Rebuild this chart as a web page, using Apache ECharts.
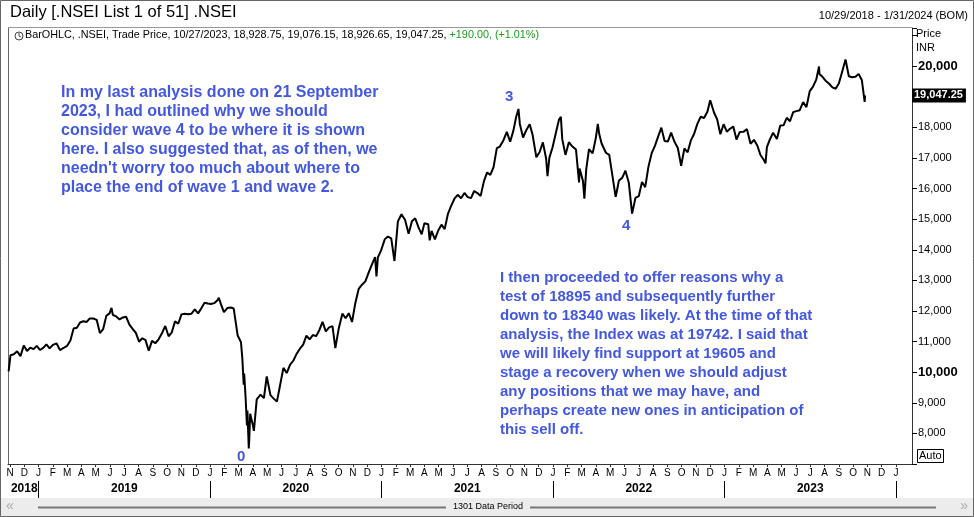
<!DOCTYPE html>
<html>
<head>
<meta charset="utf-8">
<script src="https://cdn.jsdelivr.net/npm/echarts@6/dist/echarts.min.js"></script>
<style>
html,body{margin:0;padding:0;background:#fff;}
#main{width:974px;height:517px;}
</style>
</head>
<body>
<div id="main"></div>
<script>
// weekly closes (plus a few turning points)
var dates = [
'2018-10-29','2018-11-02','2018-11-09','2018-11-16','2018-11-23','2018-11-30','2018-12-07','2018-12-14','2018-12-21','2018-12-28',
'2019-01-04','2019-01-11','2019-01-18','2019-01-25','2019-02-01','2019-02-08','2019-02-15','2019-02-22','2019-03-01','2019-03-08',
'2019-03-15','2019-03-22','2019-03-29','2019-04-05','2019-04-12','2019-04-18','2019-04-26','2019-05-03','2019-05-10','2019-05-17',
'2019-05-24','2019-05-31','2019-06-04','2019-06-07','2019-06-14','2019-06-21','2019-06-28','2019-07-05','2019-07-12','2019-07-19','2019-07-26',
'2019-08-02','2019-08-09','2019-08-16','2019-08-23','2019-08-30','2019-09-06','2019-09-13','2019-09-20','2019-09-27','2019-10-04',
'2019-10-11','2019-10-18','2019-10-25','2019-11-01','2019-11-08','2019-11-15','2019-11-22','2019-11-29','2019-12-06','2019-12-13',
'2019-12-20','2019-12-27',
'2020-01-03','2020-01-10','2020-01-17','2020-01-20','2020-01-24','2020-01-31','2020-02-07','2020-02-14','2020-02-20','2020-02-28','2020-03-06',
'2020-03-09','2020-03-12','2020-03-13','2020-03-16','2020-03-19','2020-03-20','2020-03-23','2020-03-24','2020-03-26','2020-03-27',
'2020-04-01','2020-04-03','2020-04-09','2020-04-17','2020-04-24','2020-04-30','2020-05-08','2020-05-15','2020-05-22','2020-05-29',
'2020-06-05','2020-06-12','2020-06-19','2020-06-26','2020-07-03','2020-07-10','2020-07-17','2020-07-24','2020-07-31','2020-08-07',
'2020-08-14','2020-08-21','2020-08-28','2020-09-04','2020-09-11','2020-09-18','2020-09-24','2020-10-01','2020-10-09','2020-10-16',
'2020-10-23','2020-10-30','2020-11-06','2020-11-13','2020-11-20','2020-11-27','2020-12-04','2020-12-11','2020-12-18','2020-12-21','2020-12-24',
'2020-12-31',
'2021-01-08','2021-01-15','2021-01-22','2021-01-29','2021-02-05','2021-02-12','2021-02-19','2021-02-26','2021-03-05','2021-03-12',
'2021-03-19','2021-03-26','2021-04-01','2021-04-09','2021-04-12','2021-04-16','2021-04-23','2021-04-30','2021-05-07','2021-05-14','2021-05-21',
'2021-05-28','2021-06-04','2021-06-11','2021-06-18','2021-06-25','2021-07-02','2021-07-09','2021-07-16','2021-07-23','2021-07-30',
'2021-08-06','2021-08-13','2021-08-20','2021-08-27','2021-09-03','2021-09-09','2021-09-17','2021-09-24','2021-10-01','2021-10-08',
'2021-10-14','2021-10-19','2021-10-22','2021-10-29','2021-11-05','2021-11-12','2021-11-18','2021-11-26','2021-12-03','2021-12-10',
'2021-12-17','2021-12-20','2021-12-24','2021-12-31',
'2022-01-07','2022-01-14','2022-01-18','2022-01-21','2022-01-28','2022-02-04','2022-02-11','2022-02-18','2022-02-24','2022-02-25',
'2022-03-04','2022-03-07','2022-03-11','2022-03-17','2022-03-25','2022-04-01','2022-04-05','2022-04-08','2022-04-13','2022-04-22','2022-04-29',
'2022-05-06','2022-05-12','2022-05-13','2022-05-20','2022-05-27','2022-06-03','2022-06-10','2022-06-17','2022-06-24','2022-07-01',
'2022-07-08','2022-07-15','2022-07-22','2022-07-29','2022-08-05','2022-08-12','2022-08-19','2022-08-26','2022-09-02','2022-09-09',
'2022-09-16','2022-09-23','2022-09-30','2022-10-07','2022-10-14','2022-10-21','2022-10-28','2022-11-04','2022-11-11','2022-11-18',
'2022-11-25','2022-12-01','2022-12-09','2022-12-16','2022-12-23','2022-12-30',
'2023-01-06','2023-01-13','2023-01-20','2023-01-27','2023-02-03','2023-02-10','2023-02-17','2023-02-24','2023-03-03','2023-03-10',
'2023-03-17','2023-03-24','2023-03-28','2023-03-31','2023-04-06','2023-04-13','2023-04-21','2023-04-28','2023-05-05','2023-05-12',
'2023-05-19','2023-05-26','2023-06-02','2023-06-09','2023-06-16','2023-06-23','2023-06-30','2023-07-07','2023-07-14','2023-07-20',
'2023-07-21','2023-07-28','2023-08-04','2023-08-11','2023-08-18','2023-08-25','2023-09-01','2023-09-08','2023-09-15','2023-09-22',
'2023-09-29','2023-10-06','2023-10-13','2023-10-20','2023-10-26','2023-10-27'
];
var closes = [
10030,10553,10585,10682,10526,10877,10694,10805,10754,10860,
10727,10795,10907,10780,10894,10944,10724,10792,10864,11035,
11427,11456,11624,11665,11643,11753,11755,11712,11279,11407,
11844,11923,12103,11871,11823,11724,11789,11811,11552,11419,11284,
10997,11110,11048,10700,11023,10946,11076,11274,11512,11175,
11305,11662,11583,11890,11908,11895,11914,12056,11922,12087,
12272,12246,
12227,12257,12352,12430,12248,11962,12098,12113,12081,11202,10989,
10451,9590,9955,9197,8263,8745,7511,7801,8641,8660,
8254,8084,9112,9267,9154,9860,9252,9137,9040,9580,
10142,9973,10244,10383,10608,10768,10902,11194,11073,11214,
11178,11372,11647,11333,11464,11505,10790,11417,11914,11762,
11930,11642,12264,12720,12860,12969,13258,13514,13761,13131,13749,
13982,
14347,14433,14372,13635,14924,15163,14982,14529,14938,15031,
14744,14507,14867,14835,14310,14617,14341,14631,14823,14678,15175,
15436,15670,15799,15683,15860,15722,15690,15923,15856,15763,
16238,16529,16450,16705,17324,17369,17585,17853,17532,17895,
18339,18604,18114,17672,17916,18102,17765,17026,17196,17511,
16985,16410,17004,17354,
17812,18256,18350,17617,17102,17516,17375,17276,16203,16658,
16245,15671,16630,17287,17153,17670,18114,17784,17476,17172,17102,
16411,15808,15735,16266,16352,16584,16202,15183,15699,15752,
16220,16049,16719,17158,17397,17698,17992,17558,17539,17833,
17531,17327,16747,17315,17186,17576,17787,18117,18350,18308,
18512,18887,18497,18269,17780,18105,
17860,17956,18028,17604,17854,17856,17944,17466,17594,17413,
17100,16945,16828,17360,17599,17828,17624,18065,18069,18315,
18203,18499,18534,18563,18826,18665,19189,19332,19564,19991,
19745,19646,19517,19428,19310,19266,19435,19820,20222,19674,
19638,19654,19751,19542,18837,19047
];
var monthLetters = ['N','D',
'J','F','M','A','M','J','J','A','S','O','N','D',
'J','F','M','A','M','J','J','A','S','O','N','D',
'J','F','M','A','M','J','J','A','S','O','N','D',
'J','F','M','A','M','J','J','A','S','O','N','D',
'J','F','M','A','M','J','J','A','S','O','N','D',
'J'];
var yearLabels = ['2018','2019','2020','2021','2022','2023'];
var yearLabelIdx = [1, 8, 20, 32, 44, 56];
var janIdx = [2, 14, 26, 38, 50, 62];
var priceTicks = [8000,9000,10000,11000,12000,13000,14000,15000,16000,17000,18000,20000];
var lastPrice = 19047.25;

// months since 1 Nov 2018 (fractional)
function monthPos(d) {
  var p = d.split('-').map(Number);
  var dim = new Date(p[0], p[1], 0).getDate();
  return (p[0] - 2018) * 12 + (p[1] - 1) - 10 + (p[2] - 1) / dim;
}
var lineData = dates.map(function (d, i) { return [monthPos(d), closes[i]]; });

var blue = '#4458dc';
var font = '"Liberation Sans", Arial, sans-serif';
var narrow = '"Liberation Sans Narrow", "Liberation Sans", Arial, sans-serif';

var leftNote = [
  'In my last analysis done on 21 September',
  '2023, I had outlined why we should',
  'consider wave 4 to be where it is shown',
  'here. I also suggested that, as of then, we',
  'needn\'t worry too much about where to',
  'place the end of wave 1 and wave 2.'
].join('\n');
var rightNote = [
  'I then proceeded to offer reasons why a',
  'test of 18895 and subsequently further',
  'down to 18340 was likely. At the time of that',
  'analysis, the Index was at 19742. I said that',
  'we will likely find support at 19605 and',
  'stage a recovery when we should adjust',
  'any positions that we may have, and',
  'perhaps create new ones in anticipation of',
  'this sell off.'
].join('\n');

var hidden = {show: false, axisLine: {show: false}, axisTick: {show: false}, axisLabel: {show: false}, splitLine: {show: false}};

var chart = echarts.init(document.getElementById('main'));
chart.setOption({
  animation: false,
  backgroundColor: '#fff',
  grid: [
    {left: 8, top: 28, width: 904, height: 436},
    {left: 10, top: 28, width: 886, height: 436}
  ],
  xAxis: [
    {
      gridIndex: 0, type: 'value', min: -0.14, max: 63.12, position: 'bottom',
      axisLine: {show: true, onZero: false, lineStyle: {color: '#333', width: 1}},
      axisTick: {show: false}, axisLabel: {show: false}, splitLine: {show: false}
    },
    {
      gridIndex: 1, type: 'category', data: monthLetters, boundaryGap: false, position: 'bottom',
      axisLine: {show: false},
      axisTick: {show: true, length: 3, lineStyle: {color: '#333'}},
      axisLabel: {interval: 0, margin: 4, fontSize: 10, color: '#000', fontFamily: narrow},
      splitLine: {show: false}
    },
    {
      gridIndex: 1, type: 'category', data: monthLetters, boundaryGap: false, position: 'bottom', offset: 34,
      axisLine: {show: false},
      axisTick: {
        show: true, inside: true, length: 17, lineStyle: {color: '#000'},
        interval: function (idx) { return janIdx.indexOf(idx) >= 0; }
      },
      axisLabel: {
        inside: true, interval: 0, margin: 3, fontSize: 12, fontWeight: 'bold', color: '#000', fontFamily: narrow,
        formatter: function (v, idx) {
          var k = yearLabelIdx.indexOf(idx);
          return k >= 0 ? yearLabels[k] : '';
        }
      },
      splitLine: {show: false}
    }
  ],
  yAxis: [
    {
      gridIndex: 0, type: 'value', position: 'right', min: 7000, max: 21250, interval: 1000,
      axisLine: {show: true, onZero: false, lineStyle: {color: '#333', width: 1}},
      axisTick: {show: true, length: 5, lineStyle: {color: '#000'}},
      splitLine: {show: false},
      axisLabel: {
        margin: 6, fontSize: 11, color: '#000', fontFamily: font,
        formatter: function (v) {
          if (priceTicks.indexOf(v) < 0) return '';
          var s = v.toLocaleString('en-US');
          return v % 10000 === 0 ? '{b|' + s + '}' : s;
        },
        rich: {b: {fontSize: 13, fontWeight: 'bold', color: '#000', fontFamily: font}}
      }
    },
    Object.assign({gridIndex: 1, type: 'value', position: 'left', min: 0, max: 1}, hidden)
  ],
  series: [
    {
      type: 'line', xAxisIndex: 0, yAxisIndex: 0, data: lineData,
      showSymbol: false, symbol: 'none',
      lineStyle: {color: '#000', width: 2},
      markLine: {
        silent: true, symbol: 'none',
        lineStyle: {color: 'rgba(0,0,0,0)', width: 0},
        label: {
          show: true, position: 'end', distance: 0,
          formatter: '19,047.25', color: '#fff', backgroundColor: '#000',
          fontSize: 11, fontWeight: 'bold', fontFamily: font, padding: [2, 3, 1, 2]
        },
        data: [{yAxis: lastPrice}]
      }
    }
  ],
  graphic: [
    {type: 'rect', shape: {x: 0.5, y: 0.5, width: 973, height: 516}, style: {fill: 'none', stroke: '#666'}, z: 0},
    {type: 'line', shape: {x1: 8.5, y1: 27.5, x2: 8.5, y2: 464}, style: {stroke: '#666'}},
    {type: 'line', shape: {x1: 8, y1: 27.5, x2: 912, y2: 27.5}, style: {stroke: '#999'}},
    {type: 'text', left: 10, top: 4, style: {text: 'Daily [.NSEI List 1 of 51] .NSEI', font: '16.5px ' + font, fill: '#000'}},
    {type: 'text', right: 6, top: 10, style: {text: '10/29/2018 - 1/31/2024 (BOM)', font: '11px ' + font, fill: '#000'}},
    {type: 'circle', shape: {cx: 19, cy: 36, r: 4}, style: {fill: '#fff', stroke: '#444'}},
    {type: 'polyline', shape: {points: [[19, 33], [19, 36], [21, 37]]}, style: {stroke: '#444', fill: 'none'}},
    {type: 'text', left: 25, top: 30, style: {
      text: '{a|BarOHLC, .NSEI, Trade Price, 10/27/2023, 18,928.75, 19,076.15, 18,926.65, 19,047.25, }{g|+190.00, (+1.01%)}',
      rich: {
        a: {fontSize: 10.8, fontFamily: font, fill: '#000', color: '#000'},
        g: {fontSize: 10.8, fontFamily: font, fill: '#1a9a1a', color: '#1a9a1a'}
      }
    }},
    {type: 'text', left: 916, top: 28, style: {text: 'Price', font: '11px ' + font, fill: '#000'}},
    {type: 'text', left: 916, top: 42, style: {text: 'INR', font: '11px ' + font, fill: '#000'}},
    {type: 'rect', shape: {x: 917.5, y: 449.5, width: 26, height: 13}, style: {fill: '#fff', stroke: '#000'}},
    {type: 'text', left: 919, top: 450, style: {text: 'Auto', font: '11px ' + font, fill: '#000'}},
    {type: 'text', left: 61, top: 83, style: {text: leftNote, font: 'bold 16px ' + font, fill: blue, lineHeight: 19}},
    {type: 'text', left: 500, top: 268, style: {text: rightNote, font: 'bold 15px ' + font, fill: blue, lineHeight: 19}},
    {type: 'text', left: 505, top: 89, style: {text: '3', font: 'bold 15px ' + font, fill: blue}},
    {type: 'text', left: 622, top: 218, style: {text: '4', font: 'bold 15px ' + font, fill: blue}},
    {type: 'text', left: 237, top: 449, style: {text: '0', font: 'bold 15px ' + font, fill: blue}},
    {type: 'rect', shape: {x: 1, y: 498, width: 972, height: 18}, style: {fill: '#ececec'}},
    {type: 'text', left: 6, top: 499, style: {text: '\u00ab', font: '14px ' + font, fill: '#aaa'}},
    {type: 'text', right: 6, top: 499, style: {text: '\u00bb', font: '14px ' + font, fill: '#aaa'}},
    {type: 'line', shape: {x1: 38, y1: 507.5, x2: 936, y2: 507.5}, style: {stroke: '#777', lineWidth: 2}},
    {type: 'rect', shape: {x: 446, y: 501, width: 84, height: 12}, style: {fill: '#ececec'}},
    {type: 'text', x: 488, y: 507, style: {text: '1301 Data Period', font: '9px ' + font, fill: '#000', textAlign: 'center', textVerticalAlign: 'middle'}}
  ]
});
</script>
</body>
</html>
